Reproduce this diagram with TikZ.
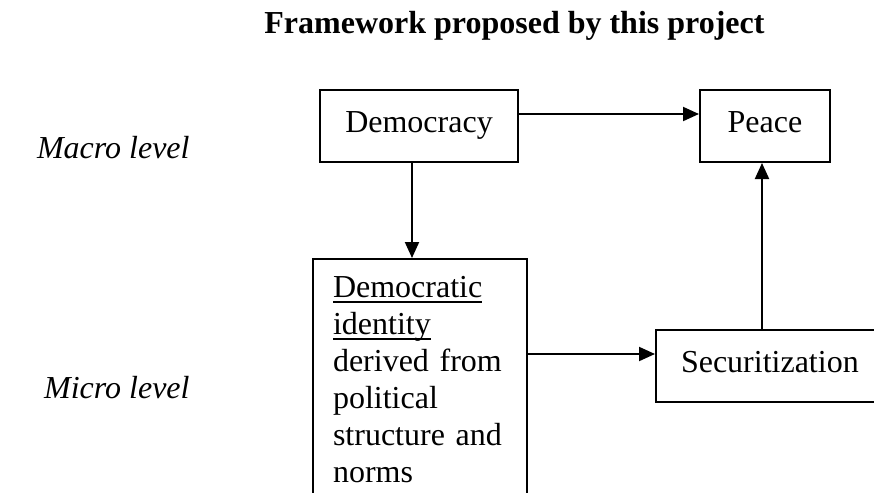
\documentclass[tikz,border=0pt]{standalone}
\usepackage{fontspec}
\setmainfont{Liberation Serif}
\usetikzlibrary{arrows.meta}
\newcommand{\ulword}[1]{\leavevmode\sbox0{#1}\rlap{\rule[-2.5pt]{\wd0}{0.7pt}}\usebox0}

\tikzset{
  box/.style={draw, line width=1pt, inner sep=0pt, text height=11pt, text depth=5pt,
    font=\fontsize{16}{18.5}\selectfont},
  lvl/.style={font=\fontsize{16}{18.5}\selectfont\itshape, inner sep=0pt, anchor=base east},
  arr/.style={line width=1pt, -{Triangle[length=8pt,width=7pt]}}
}

\begin{document}
\begin{tikzpicture}[x=0.5pt,y=-0.5pt]
    \useasboundingbox (0,0) rectangle (874,493);
    \clip (0,0) rectangle (874,493);
    \node[font=\fontsize{16}{18.5}\selectfont\bfseries, inner sep=0pt, anchor=base] (title) at (514.5,33)
      {Framework proposed by this project};
    \node[lvl] (macro) at (190,158) {Macro level};
    \node[lvl] (micro) at (190,398) {Micro level};
    % boxes
    \node[box, minimum width=99pt, minimum height=36pt] (demo) at (419,126) {Democracy};
    \node[box, minimum width=65pt, minimum height=36pt] (peace) at (765,126) {Peace};
    \node[box, anchor=north, text width=87pt, align=left, inner xsep=10pt, inner ysep=8.35pt,
      text depth=110pt] (ident) at (420,258)
      {\ulword{Democratic}\\\ulword{identity}\\derived from\\political\\structure and\\norms};
    \node[box, anchor=west, minimum height=36pt, text width=110pt, align=left, inner xsep=12.5pt]
      (secur) at (655,366) {Securitization};
    % arrows
    \draw[arr] ([yshift=6pt]demo.east) -- ([yshift=6pt]peace.west);
    \draw[arr] ([xshift=-3.5pt]demo.south) -- ([xshift=-3.5pt]demo.south |- ident.north);
    \draw[arr] ([yshift=6pt]ident.east |- secur.west) -- ([yshift=6pt]secur.west);
    \draw[arr] ([xshift=-1.5pt]peace.south |- secur.north) -- ([xshift=-1.5pt]peace.south);
\end{tikzpicture}
\end{document}
